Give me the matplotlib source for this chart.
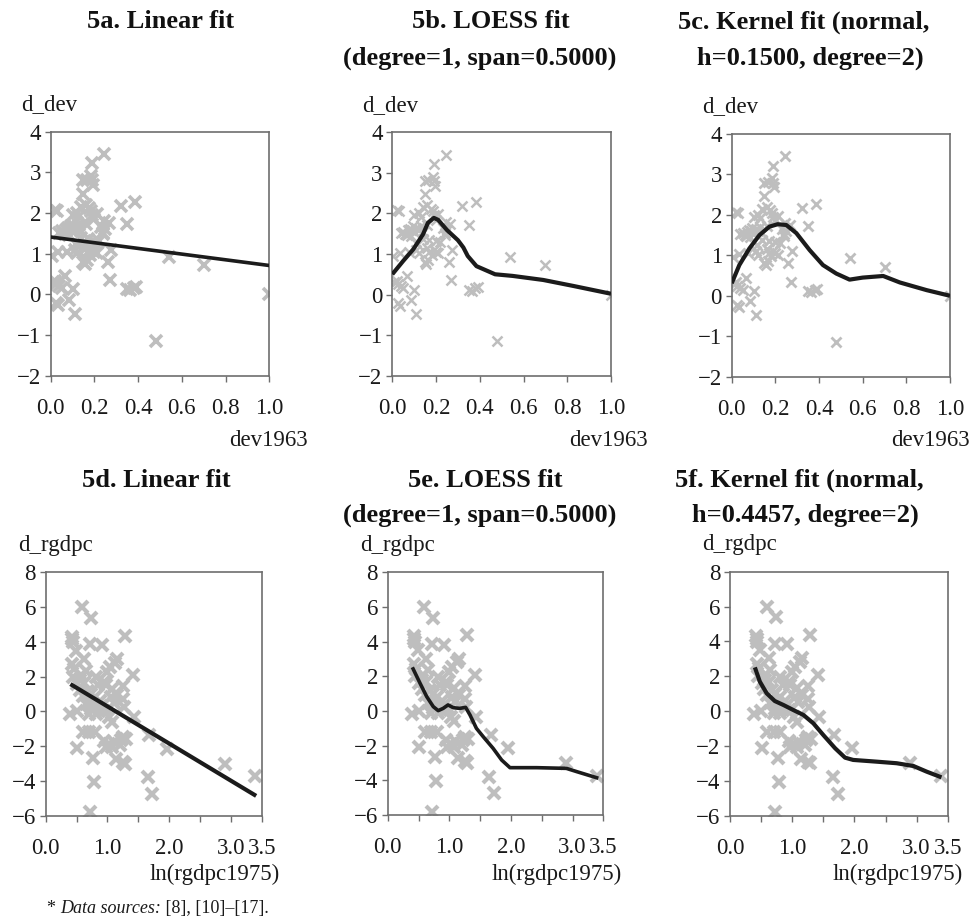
import matplotlib
matplotlib.use("Agg")
import matplotlib.pyplot as plt
import numpy as np

# ---------------- data ----------------
dev1963 = [0.245, 0.19, 0.185, 0.19, 0.195, 0.15, 0.165, 0.15, 0.32, 0.385,
           0.02, 0.03, 0.14, 0.16, 0.175, 0.185, 0.10, 0.12, 0.13, 0.19,
           0.21, 0.20, 0.265, 0.35, 0.245, 0.25, 0.24, 0.04, 0.05, 0.06,
           0.07, 0.08, 0.09, 0.095, 0.10, 0.11, 0.12, 0.13, 0.065, 0.085,
           0.14, 0.16, 0.17, 0.20, 0.22, 0.24, 0.275, 0.16, 0.17, 0.18,
           0.19, 0.20, 0.21, 0.11, 0.12, 0.035, 0.005, 0.26, 0.15, 0.155,
           0.165, 0.54, 0.70, 0.27, 0.065, 0.02, 0.025, 0.04, 0.05, 0.01,
           0.10, 0.35, 0.365, 0.38, 0.39, 0.085, 0.025, 0.035, 0.11, 0.48,
           1.00, 0.23, 0.115, 0.14, 0.075]
d_dev = [3.45, 3.22, 2.90, 2.80, 2.68, 2.80, 2.82, 2.47, 2.18, 2.28,
         2.08, 2.05, 2.15, 2.20, 2.12, 2.05, 1.95, 2.00, 1.92, 1.95,
         1.98, 1.85, 1.75, 1.72, 1.80, 1.60, 1.52, 1.52, 1.55, 1.50,
         1.58, 1.62, 1.60, 1.68, 1.55, 1.65, 1.60, 1.70, 1.48, 1.45,
         1.55, 1.72, 1.35, 1.32, 1.30, 1.48, 1.10, 1.15, 1.05, 0.98,
         1.10, 1.05, 1.02, 1.10, 1.02, 1.03, 0.95, 0.80, 0.80, 0.75,
         0.85, 0.93, 0.72, 0.35, 0.45, 0.33, 0.25, 0.20, 0.15, 0.30,
         0.12, 0.12, 0.10, 0.15, 0.18, -0.13, -0.22, -0.27, -0.48, -1.15,
         0.00, 1.65, 1.25, 1.38, 1.05]

lin_a_x = [0.0, 1.0]
lin_a_y = [1.41, 0.71]

loess_b_x = [0.0, 0.05, 0.095, 0.14, 0.163, 0.19, 0.21, 0.25, 0.30, 0.325,
             0.345, 0.385, 0.47, 0.55, 0.69, 0.83, 1.0]
loess_b_y = [0.50, 0.83, 1.11, 1.48, 1.77, 1.89, 1.84, 1.59, 1.34, 1.16,
             0.95, 0.70, 0.50, 0.46, 0.36, 0.21, 0.02]

kern_c_x = [0.0, 0.035, 0.081, 0.127, 0.173, 0.211, 0.25, 0.296, 0.357, 0.418,
            0.479, 0.54, 0.60, 0.694, 0.77, 0.893, 1.0]
kern_c_y = [0.31, 0.76, 1.17, 1.50, 1.71, 1.77, 1.75, 1.55, 1.13, 0.76,
            0.55, 0.40, 0.45, 0.49, 0.33, 0.14, 0.0]

ln_rgdpc1975 = [0.595, 0.74, 0.42, 0.43, 0.44, 0.72, 0.92, 1.28, 0.49, 0.62,
                0.43, 0.46, 1.16, 1.04, 1.00, 1.42, 0.57, 0.65, 0.81, 0.95,
                0.97, 1.08, 1.26, 0.51, 0.56, 0.62, 0.68, 0.73, 0.80, 0.88,
                0.78, 0.86, 0.95, 1.05, 1.10, 1.25, 1.27, 0.65, 0.73, 0.70,
                0.81, 0.39, 0.50, 1.03, 1.07, 1.43, 0.60, 0.70, 0.80, 0.95,
                0.97, 1.08, 1.10, 1.22, 1.25, 0.51, 0.77, 1.14, 1.26, 1.68,
                1.96, 0.78, 1.65, 1.73, 0.72, 2.90, 3.39, 0.55, 0.60, 0.90,
                1.00, 1.15, 0.85, 1.20, 1.30, 1.02, 1.28, 0.45, 0.75, 1.12]
d_rgdpc = [5.99, 5.38, 4.30, 4.15, 3.98, 3.88, 3.83, 4.36, 3.50, 3.02,
           2.70, 2.45, 3.02, 2.55, 2.26, 2.10, 2.10, 2.35, 1.97, 1.68,
           1.49, 1.30, 1.44, 1.60, 1.80, 1.65, 1.20, 1.00, 0.80, 0.60,
           0.25, 0.05, 0.05, 0.80, 0.50, 0.70, 0.25, 0.44, 0.15, -0.13,
           -0.13, -0.17, 0.00, -0.33, -0.60, -0.33, -1.20, -1.20, -1.20, -1.70,
           -2.05, -2.05, -1.75, -1.67, -1.50, -2.10, -2.68, -2.72, -2.90, -1.38,
           -2.14, -4.06, -3.80, -4.73, -5.80, -3.00, -3.73, 1.25, 0.90, 0.30,
           0.10, 0.95, 1.50, -1.95, -1.60, -1.90, -3.00, 2.00, 0.50, 2.80]

lin_d_x = [0.40, 3.41]
lin_d_y = [1.57, -4.86]

loess_e_x = [0.40, 0.525, 0.633, 0.74, 0.82, 0.90, 0.98, 1.065, 1.17, 1.265,
             1.336, 1.44, 1.55, 1.71, 1.85, 1.985, 2.42, 2.90, 3.07, 3.42]
loess_e_y = [2.52, 1.60, 0.83, 0.25, 0.02, 0.15, 0.35, 0.19, 0.15, 0.21,
             -0.23, -1.00, -1.48, -2.15, -2.83, -3.27, -3.27, -3.31, -3.50, -3.88]

kern_f_x = [0.40, 0.48, 0.59, 0.72, 0.86, 1.02, 1.18, 1.34, 1.50, 1.69,
            1.85, 1.98, 2.36, 2.68, 2.95, 3.16, 3.40]
kern_f_y = [2.51, 1.69, 1.02, 0.58, 0.35, 0.06, -0.22, -0.70, -1.37, -2.13,
            -2.67, -2.80, -2.90, -2.99, -3.15, -3.47, -3.80]

top_titles = [["5a. Linear fit"],
              ["5b. LOESS fit", "(degree=1, span=0.5000)"],
              ["5c. Kernel fit (normal,", "h=0.1500, degree=2)"]]
bot_titles = [["5d. Linear fit"],
              ["5e. LOESS fit", "(degree=1, span=0.5000)"],
              ["5f. Kernel fit (normal,", "h=0.4457, degree=2)"]]
top_xticks = [0.0, 0.2, 0.4, 0.6, 0.8, 1.0]
top_xticklabels = ["0.0", "0.2", "0.4", "0.6", "0.8", "1.0"]
top_yticks = [-2, -1, 0, 1, 2, 3, 4]
bot_xticks = [0.0, 0.5, 1.0, 1.5, 2.0, 2.5, 3.0, 3.5]
bot_xticklabels = ["0.0", "", "1.0", "", "2.0", "", "3.0", "3.5"]
bot_yticks = [-6, -4, -2, 0, 2, 4, 6, 8]

# ---------------- layout ----------------
W, H = 973, 921
plt.rcParams['font.family'] = ['Liberation Serif', 'DejaVu Serif']
plt.rcParams['axes.unicode_minus'] = True
fig = plt.figure(figsize=(W / 100, H / 100), dpi=100)
fig.patch.set_facecolor('white')

def px_axes(l, r, t, b):
    return fig.add_axes([l / W, 1 - b / H, (r - l) / W, (b - t) / H])

def fx(x):
    return x / W

def fy(y):
    return 1 - y / H

SPINE = '#6e6e6e'
PT = '#bebebe'
LINE = '#1b1b1b'
FS = 16.5
TFS = 19

def style(ax, xt, xtl, yt, ylim, xlim):
    ax.set_xlim(*xlim)
    ax.set_ylim(*ylim)
    ax.set_xticks(xt)
    ax.set_xticklabels(xtl)
    ax.set_yticks(yt)
    ax.set_yticklabels([f"{v:d}".replace('-', '\u2212') for v in yt])
    for s in ax.spines.values():
        s.set_color(SPINE)
        s.set_linewidth(1.2)
    ax.tick_params(direction='out', length=4, width=1, color=SPINE,
                   labelsize=FS, labelcolor='#1a1a1a', pad=3)
    ax.tick_params(axis='x', pad=12)

top_boxes = [(50.7, 269.3, 131.7, 375.7), (392.3, 611.0, 132.3, 375.7),
             (731.7, 950.0, 134.0, 376.7)]
bot_boxes = [(45.7, 261.7, 572.3, 815.7), (387.7, 603.3, 572.3, 815.0),
             (730.0, 947.7, 571.7, 815.7)]

top_lines = [(lin_a_x, lin_a_y, 2.6), (loess_b_x, loess_b_y, 3.0),
             (kern_c_x, kern_c_y, 3.0)]
bot_lines = [(lin_d_x, lin_d_y, 3.0), (loess_e_x, loess_e_y, 2.6),
             (kern_f_x, kern_f_y, 3.0)]
top_ms = [(8, 2.6), (6.5, 1.8), (6.5, 2.0)]
bot_ms = [(9, 3.0), (9, 3.0), (9, 3.0)]

top_title_x = [[161], [491, 480], [804, 810]]
bot_title_x = [[156], [485, 480], [799, 805]]
top_title_y = [22, 58]
bot_title_y = [480, 515]
top_xlabel_right = [308, 648, 970]
bot_xlabel_right = [280, 622, 963]

def draw_title(lines, xs, ys):
    for txt, x, y in zip(lines, xs, ys):
        fig.text(fx(x), fy(y), txt, fontsize=TFS, fontweight='bold',
                 ha='center', va='center', color='#111111')

for i in range(3):
    l, r, t, b = top_boxes[i]
    ax = px_axes(l, r, t, b)
    ms, mew = top_ms[i]
    ax.plot(dev1963, d_dev, linestyle='none', marker='x', color=PT,
            markersize=ms, markeredgewidth=mew, zorder=2)
    lx, ly, lw = top_lines[i]
    ax.plot(lx, ly, color=LINE, lw=lw, zorder=3, solid_capstyle='butt')
    style(ax, top_xticks, top_xticklabels, top_yticks, (-2, 4), (0, 1))
    fig.text(fx(l - 30), fy(t - 27), "d_dev", fontsize=FS, ha='left', va='center',
             color='#1a1a1a')
    fig.text(fx(top_xlabel_right[i]), fy(440), "dev1963", fontsize=FS,
             ha='right', va='center', color='#1a1a1a')
    draw_title(top_titles[i], top_title_x[i], top_title_y)

for i in range(3):
    l, r, t, b = bot_boxes[i]
    ax = px_axes(l, r, t, b)
    ms, mew = bot_ms[i]
    ax.plot(ln_rgdpc1975, d_rgdpc, linestyle='none', marker='x', color=PT,
            markersize=ms, markeredgewidth=mew, zorder=2)
    lx, ly, lw = bot_lines[i]
    ax.plot(lx, ly, color=LINE, lw=lw, zorder=3, solid_capstyle='butt')
    style(ax, bot_xticks, bot_xticklabels, bot_yticks, (-6, 8), (0, 3.5))
    fig.text(fx(l - 28), fy(t - 27), "d_rgdpc", fontsize=FS, ha='left',
             va='center', color='#1a1a1a')
    fig.text(fx(bot_xlabel_right[i]), fy(874), "ln(rgdpc1975)", fontsize=FS,
             ha='right', va='center', color='#1a1a1a')
    draw_title(bot_titles[i], bot_title_x[i], bot_title_y)

# footnote with italic part
fig.canvas.draw()
renderer = fig.canvas.get_renderer()
parts = [("* ", 'normal'), ("Data sources:", 'italic'), (" [8], [10]\u2013[17].", 'normal')]
xpos = 47
for txt, st in parts:
    tobj = fig.text(fx(xpos), fy(908), txt, fontsize=13, style=st,
                    ha='left', va='center', color='#1a1a1a')
    bb = tobj.get_window_extent(renderer=renderer)
    xpos += bb.width

fig.savefig("out.png", dpi=100, facecolor='white')
